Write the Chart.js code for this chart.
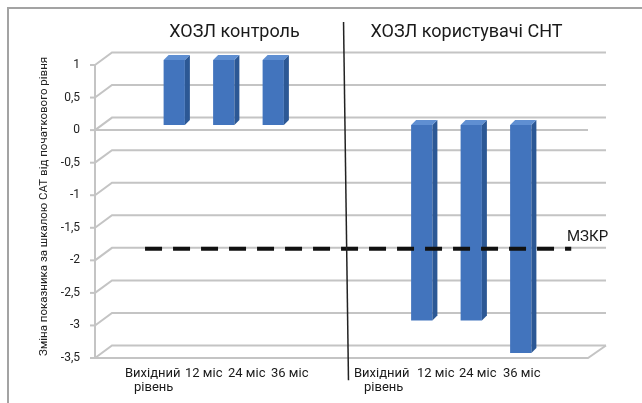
<!DOCTYPE html>
<html><head><meta charset="utf-8">
<script src="https://cdn.jsdelivr.net/npm/chart.js@4"></script>
<style>html,body{margin:0;padding:0;background:#fff;}canvas{display:block;}</style>
</head><body>
<canvas id="c" width="642" height="403"></canvas>
<script>
// ---- data ----
const categories = ['Вихідний рівень','12 міс','24 міс','36 міс','','Вихідний рівень','12 міс','24 міс','36 міс',''];
const satChange = [0, 1, 1, 1, null, 0, -3, -3, -3.5, null];
const groupTitles = ['ХОЗЛ контроль', 'ХОЗЛ користувачі СНТ'];
const xLabelRow1 = ['Вихідний', '12 міс', '24 міс', '36 міс'];
const xLabelRow2 = ['рівень', '', '', ''];
const yTicks = [1, 0.5, 0, -0.5, -1, -1.5, -2, -2.5, -3, -3.5];
const yTickLabels = ['1', '0,5', '0', '-0,5', '-1', '-1,5', '-2', '-2,5', '-3', '-3,5'];
const yTitle = 'Зміна показника за шкалою САТ від початкового рівня';
const mcidLabel = 'МЗКР';
const mcidValue = -1.9;
const mcidSpan = [0.91, 9.52];
const dividerLine = [{x: 4.92, y: 1.585}, {x: 5.02, y: -3.92}];

// ---- layout (pixels) ----
const LAYOUT = {
  groupTitleX: [234.5, 466.5], groupTitleY: 32,
  labelStartX: [[125, 185, 228, 271], [354, 417, 459, 503]],
  label2StartX: [[134], [364]],
  labelY1: 374, labelY2: 388,
  mcidLabelX: 567, mcidLabelY: 237
};
const FONT = 'Roboto';

const deco = {
  id: 'deco',
  beforeDraw(chart) {
    const {ctx} = chart;
    ctx.save();
    ctx.fillStyle = '#fff';
    ctx.fillRect(0, 0, chart.width, chart.height);
    ctx.strokeStyle = '#a3a3a3';
    ctx.lineWidth = 2;
    ctx.beginPath();
    ctx.moveTo(8, chart.height); ctx.lineTo(8, 8); ctx.lineTo(chart.width, 8);
    ctx.stroke();
    ctx.restore();
  },
  beforeDatasetsDraw(chart) {
    const {ctx, chartArea: a, scales: {y}} = chart;
    const F = 5, B = -7.5;
    const fx = a.left - 5, bx = a.left + 12, bxr = a.right + 11, fxr = a.right - 7;
    ctx.save();
    ctx.strokeStyle = '#c4c4c4';
    ctx.lineWidth = 2;
    yTicks.forEach(v => {
      const p = y.getPixelForValue(v);
      ctx.beginPath();
      ctx.moveTo(fx, p + F); ctx.lineTo(bx, p + B); ctx.lineTo(bxr, p + B);
      ctx.stroke();
      ctx.beginPath();
      ctx.moveTo(fx - 5, p + F); ctx.lineTo(fx, p + F);
      ctx.stroke();
    });
    const top = y.getPixelForValue(y.max) + F, bot = y.getPixelForValue(y.min) + F;
    const z = y.getPixelForValue(0) + F;
    ctx.beginPath(); ctx.moveTo(fx, top); ctx.lineTo(fx, bot); ctx.stroke();
    ctx.beginPath(); ctx.moveTo(fx, z); ctx.lineTo(fxr, z); ctx.stroke();
    ctx.beginPath(); ctx.moveTo(fx, bot); ctx.lineTo(fxr, bot); ctx.lineTo(bxr, y.getPixelForValue(y.min) + B); ctx.stroke();
    ctx.restore();
  },
  afterDatasetDraw(chart, args) {
    if (args.index !== 0) return;
    const {ctx} = chart;
    const meta = chart.getDatasetMeta(0);
    const d = 5;
    ctx.save();
    meta.data.forEach((bar, i) => {
      if (satChange[i] == null || satChange[i] === 0) return;
      const {x, y, base, width} = bar.getProps(['x', 'y', 'base', 'width'], true);
      const l = x - width / 2, r = x + width / 2;
      const t = Math.min(y, base), b = Math.max(y, base);
      ctx.fillStyle = '#2c5895';
      ctx.beginPath();
      ctx.moveTo(r, t); ctx.lineTo(r + d, t - d); ctx.lineTo(r + d, b - d); ctx.lineTo(r, b);
      ctx.closePath(); ctx.fill();
      ctx.fillStyle = '#5f8fd2';
      ctx.beginPath();
      ctx.moveTo(l, t); ctx.lineTo(l + d, t - d); ctx.lineTo(r + d, t - d); ctx.lineTo(r, t);
      ctx.closePath(); ctx.fill();
    });
    ctx.restore();
  },
  afterDraw(chart) {
    const {ctx} = chart;
    ctx.save();
    ctx.fillStyle = '#1a1a1a';
    ctx.textBaseline = 'middle';
    ctx.textAlign = 'center';
    ctx.font = '18px ' + FONT;
    groupTitles.forEach((t, g) => ctx.fillText(t, LAYOUT.groupTitleX[g], LAYOUT.groupTitleY));
    ctx.textAlign = 'left';
    ctx.font = '13px ' + FONT;
    for (let g = 0; g < 2; g++) {
      xLabelRow1.forEach((t, i) => ctx.fillText(t, LAYOUT.labelStartX[g][i], LAYOUT.labelY1));
      xLabelRow2.forEach((t, i) => { if (t) ctx.fillText(t, LAYOUT.label2StartX[g][i], LAYOUT.labelY2); });
    }
    ctx.font = '15px ' + FONT;
    ctx.fillText(mcidLabel, LAYOUT.mcidLabelX, LAYOUT.mcidLabelY);
    ctx.restore();
  }
};

new Chart(document.getElementById('c'), {
  data: {
    labels: categories,
    datasets: [
      {
        type: 'bar', data: satChange, order: 2, grouped: false,
        backgroundColor: '#4274bd', borderWidth: 0,
        barPercentage: 0.43, categoryPercentage: 1,
        xAxisID: 'x', yAxisID: 'y'
      },
      {
        type: 'line', order: 1, xAxisID: 'x2', yAxisID: 'y',
        data: mcidSpan.map(v => ({x: v, y: mcidValue})),
        borderColor: '#111', borderWidth: 4, borderDash: [17, 11],
        pointRadius: 0, fill: false, clip: false
      },
      {
        type: 'line', order: 0, xAxisID: 'x2', yAxisID: 'y',
        data: dividerLine,
        borderColor: '#222', borderWidth: 1.5,
        pointRadius: 0, fill: false, clip: false
      }
    ]
  },
  options: {
    responsive: false, animation: false, devicePixelRatio: 1,
    layout: {padding: {left: 0, right: 47, top: 60, bottom: 50}},
    plugins: {legend: {display: false}, tooltip: {enabled: false}},
    scales: {
      x: {type: 'category', display: false, offset: true},
      x2: {type: 'linear', display: false, min: 0, max: 10},
      y: {
        min: -3.5, max: 1, position: 'left',
        afterFit(s) { s.width = 100; },
        afterBuildTicks(s) { s.ticks = yTicks.map(v => ({value: v})); },
        grid: {display: false, drawTicks: false},
        border: {display: false},
        ticks: {
          callback: (v) => yTickLabels[yTicks.indexOf(v)],
          padding: 20, labelOffset: 5,
          font: {family: FONT, size: 12}, color: '#222'
        },
        title: {
          display: true, text: yTitle, color: '#222',
          font: {family: FONT, size: 11.5}, padding: {top: 37, bottom: 0}
        }
      }
    }
  },
  plugins: [deco]
});
</script>
</body></html>
